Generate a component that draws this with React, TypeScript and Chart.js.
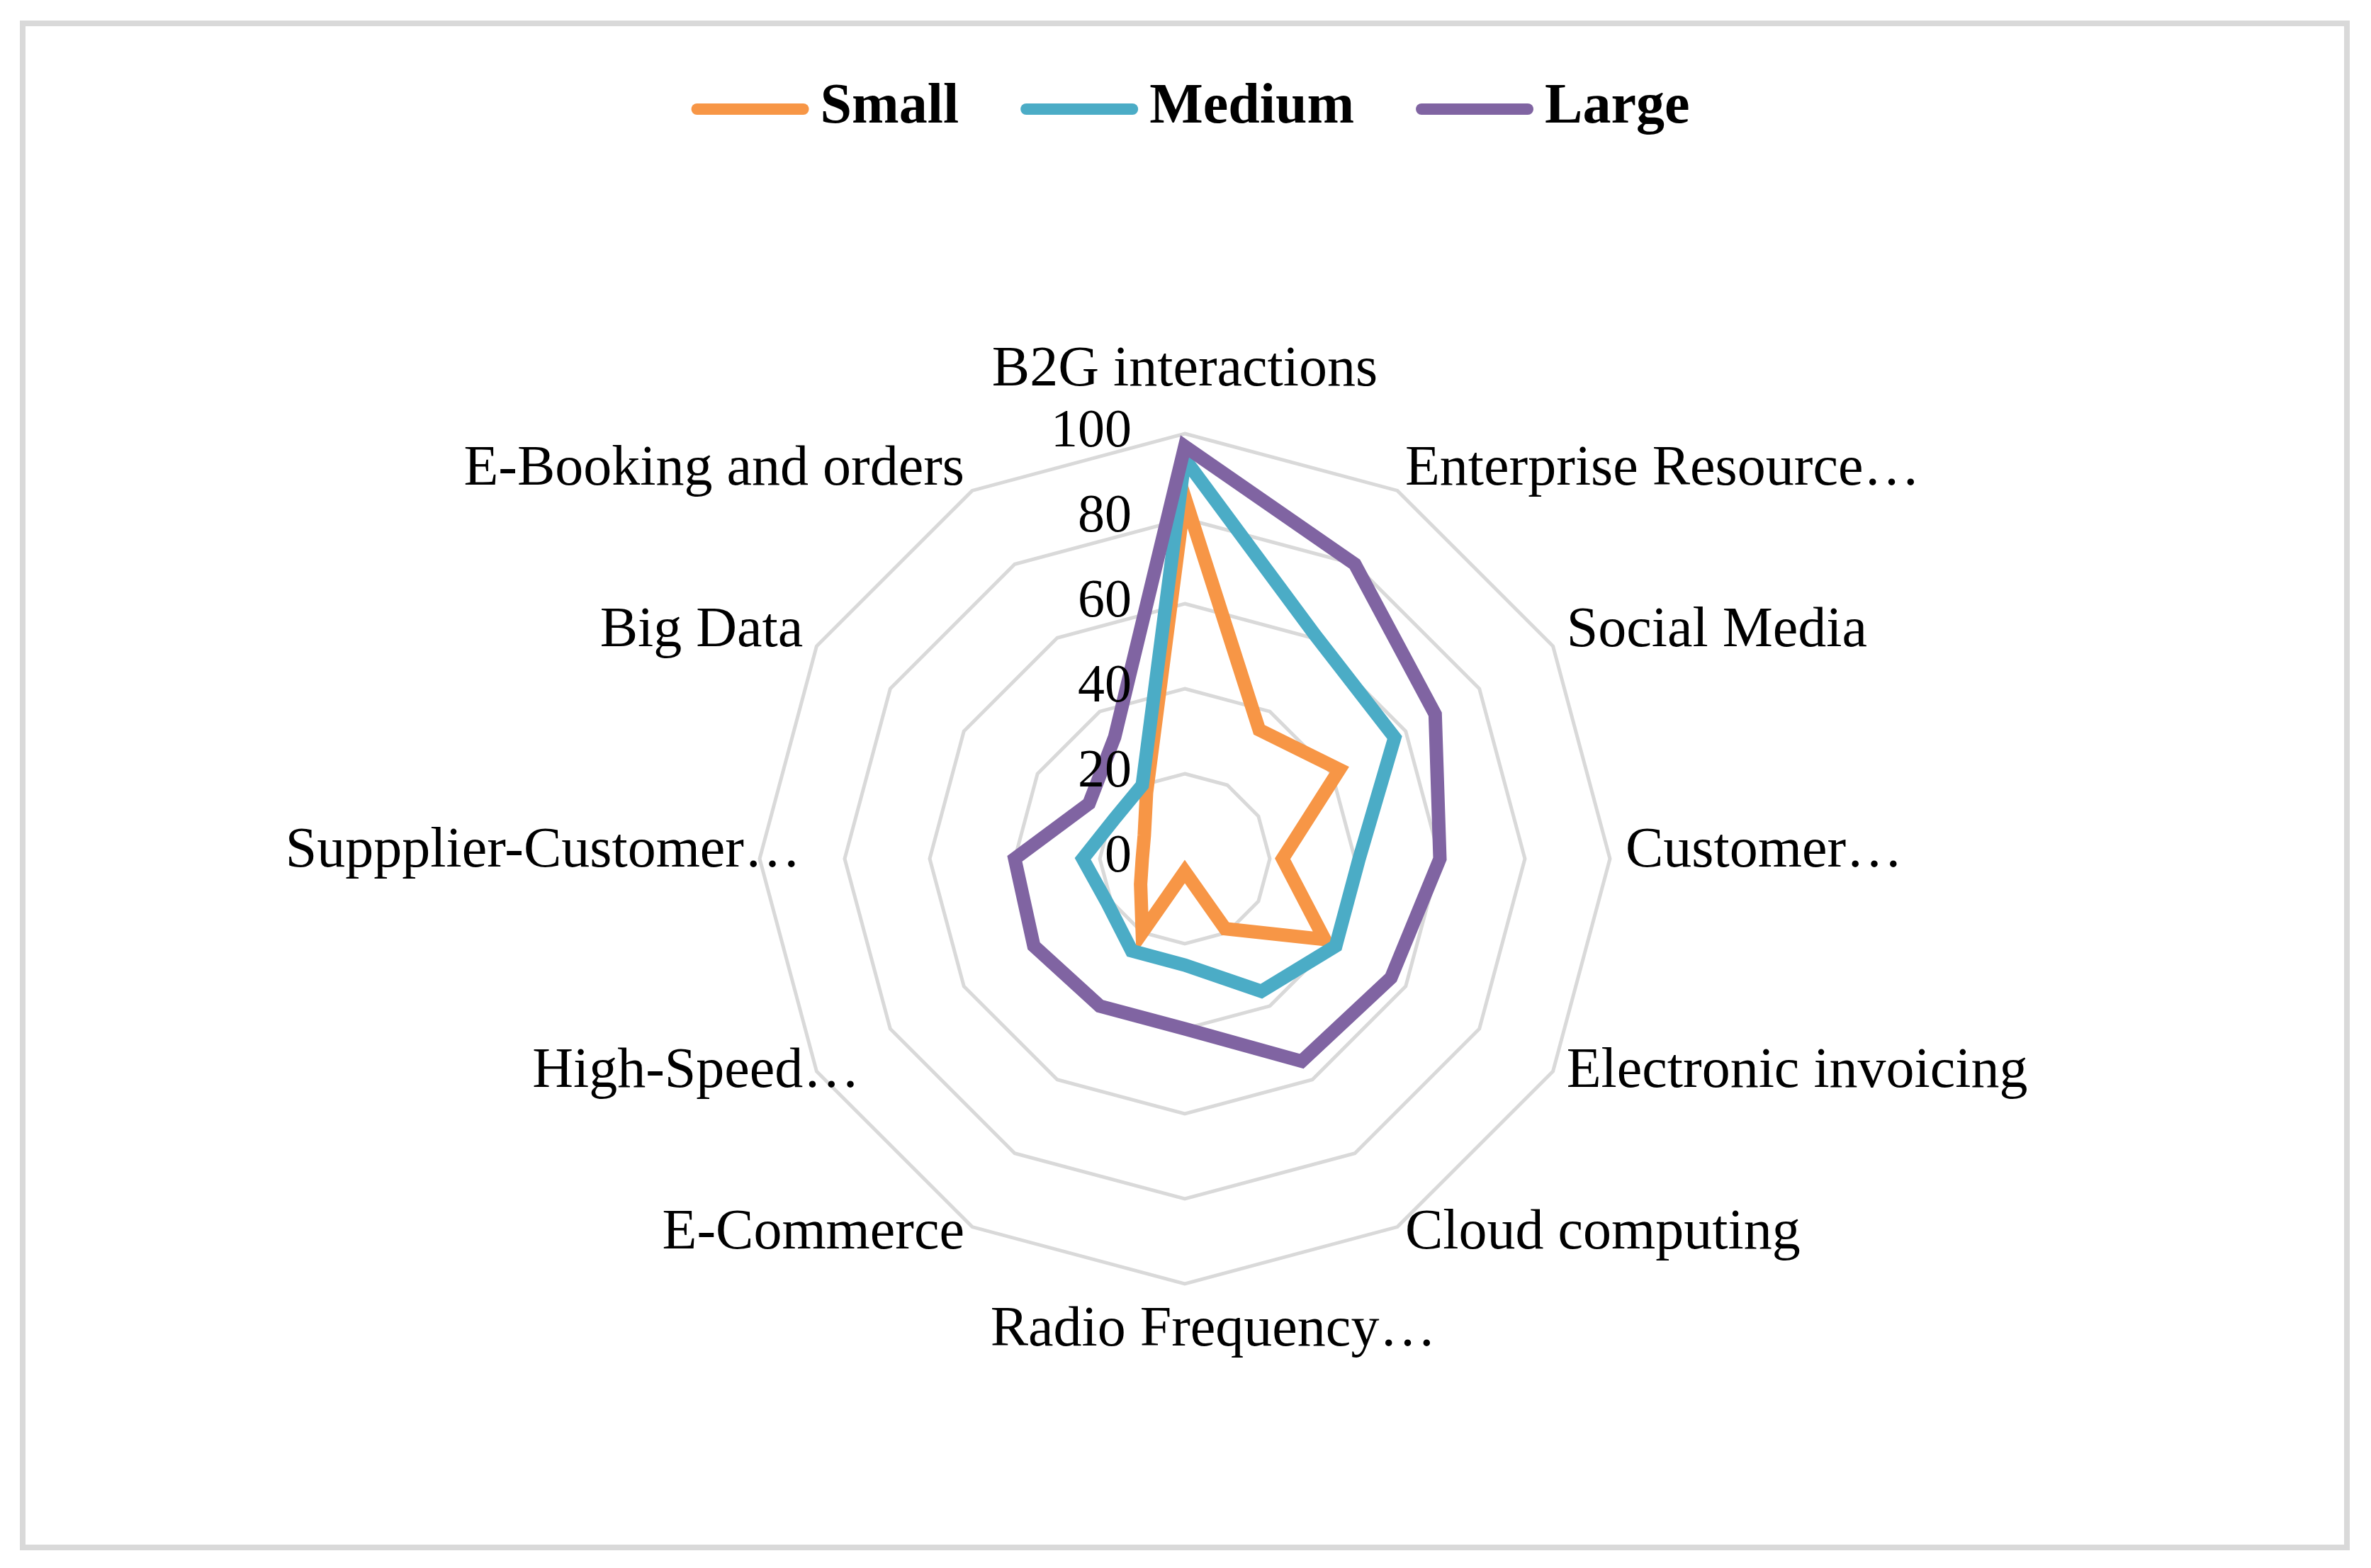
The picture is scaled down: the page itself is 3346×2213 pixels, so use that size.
import React, { useEffect, useRef } from 'react';
import { Chart, registerables } from 'chart.js';

Chart.register(...registerables);

// ---- data ----
const categories = [
  'B2G interactions',
  'Enterprise Resource…',
  'Social Media',
  'Customer…',
  'Electronic invoicing',
  'Cloud computing',
  'Radio Frequency…',
  'E-Commerce',
  'High-Speed…',
  'Suppplier-Customer…',
  'Big Data',
  'E-Booking and orders',
];
const seriesNames = ['Small', 'Medium', 'Large'];
const smallValues = [85, 35, 42, 23, 38, 19, 3, 20, 12, 10, 11, 18];
const mediumValues = [94, 61, 57, 41, 41, 36, 25, 25, 21, 24, 19, 20];
const largeValues = [97, 80, 68, 60, 56, 55, 40, 40, 41, 40, 26, 33];
const tickValues = [0, 20, 40, 60, 80, 100];

// ---- style ----
const W = 3346;
const H = 2213;
const seriesColors = ['#F79646', '#4BACC6', '#8064A2'];
const SERIF = '"Liberation Serif", "Times New Roman", serif';
const LABEL_FONT = 80;
const TICK_FONT = 76;
const LEGEND_FONT = 80;

const overlayPlugin = {
  id: 'overlay',
  afterDraw(chart: any) {
    const ctx: CanvasRenderingContext2D = chart.ctx;
    const scale = chart.scales.r;
    ctx.save();
    ctx.fillStyle = '#000000';

    // tick labels, right-aligned to the left of the vertical axis
    ctx.font = `${TICK_FONT}px ${SERIF}`;
    ctx.textAlign = 'right';
    ctx.textBaseline = 'middle';
    tickValues.forEach((v) => {
      const p = scale.getPointPositionForValue(0, v);
      ctx.fillText(String(v), scale.xCenter - 75, p.y - 2);
    });

    // category labels
    ctx.font = `${LABEL_FONT}px ${SERIF}`;
    ctx.textAlign = 'left';
    ctx.textBaseline = 'middle';
    categories.forEach((label, i) => {
      const deg = Math.round((scale.getIndexAngle(i) * 180) / Math.PI) % 360;
      const p = scale.getPointPosition(i, scale.drawingArea + 22);
      const base = label.endsWith('…') ? label.slice(0, -1) : label;
      const bw = ctx.measureText(base).width;
      let x: number;
      let y: number;
      if (deg === 0) {
        x = p.x - bw / 2;
        y = p.y - 67;
      } else if (deg === 180) {
        x = p.x - bw / 2;
        y = p.y + 44;
      } else if (deg < 180) {
        x = p.x;
        y = p.y - 10;
      } else {
        x = p.x - bw;
        y = p.y - 10;
      }
      ctx.fillText(label, x, y);
    });

    // legend
    const lineW = 166;
    const gap = 16;
    const spacing = 87;
    const legendY = 154;
    ctx.font = `bold ${LEGEND_FONT}px ${SERIF}`;
    const widths = seriesNames.map((n) => ctx.measureText(n).width);
    const total =
      widths.reduce((a, b) => a + b, 0) + seriesNames.length * (lineW + gap) + spacing * (seriesNames.length - 1);
    let x = scale.xCenter + 8 - total / 2;
    seriesNames.forEach((name, i) => {
      ctx.strokeStyle = seriesColors[i];
      ctx.lineWidth = 16;
      ctx.lineCap = 'round';
      ctx.beginPath();
      ctx.moveTo(x + 8, legendY);
      ctx.lineTo(x + lineW - 8, legendY);
      ctx.stroke();
      ctx.fillStyle = '#000000';
      ctx.textAlign = 'left';
      ctx.textBaseline = 'middle';
      ctx.fillText(name, x + lineW + gap, legendY - 2);
      x += lineW + gap + widths[i] + spacing;
    });

    ctx.restore();
  },
};

export default function App() {
  const canvasRef = useRef<HTMLCanvasElement | null>(null);

  useEffect(() => {
    document.body.style.margin = '0';
    const canvas = canvasRef.current;
    if (!canvas) return;
    const valueSets = [smallValues, mediumValues, largeValues];
    const chart = new Chart(canvas, {
      type: 'radar',
      data: {
        labels: categories,
        datasets: seriesNames.map((name, i) => ({
          label: name,
          data: valueSets[i],
          borderColor: seriesColors[i],
          backgroundColor: 'rgba(0,0,0,0)',
          borderWidth: 19,
          fill: false,
          pointRadius: 0,
          pointHoverRadius: 0,
          tension: 0,
          clip: false as any,
          order: seriesNames.length - i,
        })),
      },
      options: {
        animation: false,
        responsive: false,
        devicePixelRatio: 1,
        layout: { padding: { left: 1072, right: 1074, top: 612, bottom: 401 } },
        plugins: {
          legend: { display: false },
          tooltip: { enabled: false },
        },
        scales: {
          r: {
            min: 0,
            max: 100,
            beginAtZero: true,
            ticks: { display: false, stepSize: 20 },
            grid: { color: '#D9D9D9', lineWidth: 5 },
            angleLines: { display: false },
            pointLabels: { display: false },
          },
        },
      },
      plugins: [overlayPlugin],
    });
    return () => chart.destroy();
  }, []);

  return (
    <div style={{ position: 'relative', width: W, height: H, background: '#ffffff' }}>
      <div
        style={{
          position: 'absolute',
          left: 28,
          top: 29,
          width: 3288,
          height: 2159,
          border: '8px solid #D9D9D9',
          boxSizing: 'border-box',
        }}
      />
      <canvas
        ref={canvasRef}
        width={W}
        height={H}
        style={{ position: 'absolute', left: 0, top: 0, width: W, height: H }}
      />
    </div>
  );
}
